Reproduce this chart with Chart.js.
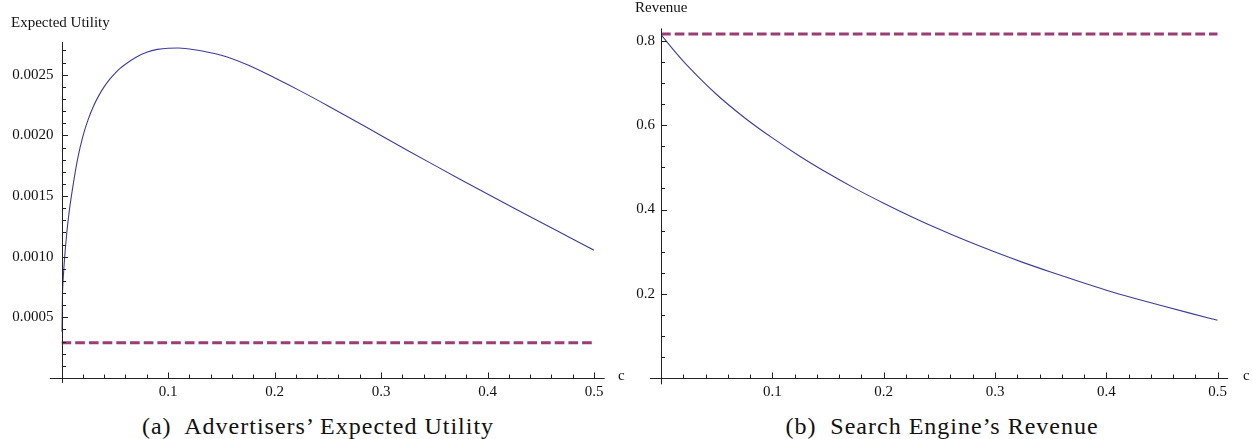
<!DOCTYPE html>
<html>
<head>
<meta charset="utf-8">
<script src="https://cdn.jsdelivr.net/npm/chart.js@4"></script>
<style>
  body { margin: 0; background: #fff; width: 1252px; height: 439px; position: relative; overflow: hidden; font-family: "Liberation Serif", serif; color: #111; }
  .box { position: absolute; top: 0; width: 626px; height: 400px; }
  .lbl { position: absolute; font-size: 15px; line-height: 15px; white-space: nowrap; }
  .cap { position: absolute; top: 414px; font-size: 24px; line-height: 24px; letter-spacing: 1px; white-space: nowrap; transform: translateX(-50%); }
</style>
</head>
<body>
<div class="box" style="left:0"><canvas id="util"></canvas></div>
<div class="box" style="left:626px"><canvas id="rev"></canvas></div>
<div class="lbl" style="left:11px;top:15px">Expected Utility</div>
<div class="lbl" style="left:635px;top:0px">Revenue</div>
<div class="lbl" style="left:618px;top:368px">c</div>
<div class="lbl" style="left:1243px;top:368px">c</div>
<div class="cap" style="left:318px">(a)&nbsp; Advertisers’ Expected Utility</div>
<div class="cap" style="left:942px">(b)&nbsp; Search Engine’s Revenue</div>
<script>
// c values and the two curves
const utilC = [0, 0.0005, 0.001, 0.0025, 0.005, 0.0075, 0.01, 0.015, 0.02, 0.025, 0.03, 0.035, 0.04, 0.045, 0.05, 0.055, 0.06, 0.07, 0.08, 0.09, 0.1, 0.11, 0.125, 0.15, 0.175, 0.2, 0.225, 0.25, 0.275, 0.3, 0.325, 0.35, 0.375, 0.4, 0.425, 0.45, 0.475, 0.5];
const utilVals = [0.00038, 0.00058, 0.00072, 0.00094, 0.0012, 0.00139, 0.00154, 0.0018, 0.00199, 0.00213, 0.00224, 0.002328, 0.0024, 0.00246, 0.00251, 0.002552, 0.002587, 0.002645, 0.002685, 0.002709, 0.002719, 0.00272, 0.002706, 0.00266, 0.00258, 0.002475, 0.002363, 0.002245, 0.002123, 0.001999, 0.001876, 0.001755, 0.001635, 0.001517, 0.0014, 0.001284, 0.001169, 0.001054];
const utilBase = 0.00029;

const revC = [0, 0.0125, 0.025, 0.05, 0.075, 0.1, 0.125, 0.15, 0.175, 0.2, 0.225, 0.25, 0.275, 0.3, 0.325, 0.35, 0.375, 0.4, 0.425, 0.45, 0.475, 0.5];
const revVals = [0.815, 0.775, 0.738, 0.673, 0.618, 0.570, 0.526, 0.486, 0.449, 0.415, 0.383, 0.353, 0.325, 0.299, 0.2745, 0.2515, 0.2295, 0.2085, 0.1895, 0.1715, 0.154, 0.137];
const revBase = 0.8167;

const cEnds = [0, 0.5];
const cMajor = [0.1, 0.2, 0.3, 0.4, 0.5];
const utilMajor = [0.0005, 0.001, 0.0015, 0.002, 0.0025];
const revMajor = [0.2, 0.4, 0.6, 0.8];

const lineBlue = '#3c3c9c';
const dashPurple = '#993d74';

function steps(step, last) {
  const out = [];
  for (let i = 1; i * step <= last + 1e-12; i++) out.push(+(i * step).toFixed(6));
  return out;
}
const near = (a, b) => Math.abs(a - b) < 1e-9;

// axes through the origin with inward ticks, like Mathematica
const mmaAxes = {
  id: 'mmaAxes',
  afterDraw(chart, args, o) {
    const { ctx, scales: { x, y } } = chart;
    const x0 = Math.round(x.getPixelForValue(0)) + 0.5;
    const y0 = Math.round(y.getPixelForValue(0)) + 0.5;
    ctx.save();
    ctx.strokeStyle = '#222';
    ctx.lineWidth = 1;
    ctx.beginPath();
    ctx.moveTo(x.getPixelForValue(o.xFrom), y0);
    ctx.lineTo(x.getPixelForValue(o.xTo), y0);
    ctx.moveTo(x0, y.getPixelForValue(y.max));
    ctx.lineTo(x0, y.getPixelForValue(o.yFrom));
    x.ticks.forEach(t => {
      const p = Math.round(x.getPixelForValue(t.value)) + 0.5;
      ctx.moveTo(p, y0);
      ctx.lineTo(p, y0 - (t.big ? 6 : 4));
    });
    y.ticks.forEach(t => {
      const p = Math.round(y.getPixelForValue(t.value)) + 0.5;
      ctx.moveTo(x0, p);
      ctx.lineTo(x0 + (t.big ? 5.5 : 3.5), p);
    });
    ctx.stroke();
    ctx.restore();
  }
};

function makeChart(id, cs, vals, base, yMax, yMinor, yMajor, yDigits, yWidth, yPad, pad, axisOpts) {
  const tickFont = { family: 'Liberation Serif', size: 15 };
  return new Chart(document.getElementById(id), {
    type: 'line',
    data: {
      datasets: [
        {
          data: cs.map((c, i) => ({ x: c, y: vals[i] })),
          borderColor: lineBlue, borderWidth: 1.1,
          pointRadius: 0, cubicInterpolationMode: 'monotone'
        },
        {
          data: cEnds.map(c => ({ x: c, y: base })),
          borderColor: dashPurple, borderWidth: 3, borderDash: [9.7, 4],
          pointRadius: 0
        }
      ]
    },
    options: {
      responsive: true, maintainAspectRatio: false, animation: false,
      layout: { padding: pad },
      plugins: { legend: { display: false }, tooltip: { enabled: false }, mmaAxes: axisOpts },
      scales: {
        x: {
          type: 'linear', min: cEnds[0], max: cEnds[1],
          grid: { display: false, drawTicks: false }, border: { display: false },
          afterBuildTicks: s => { s.ticks = steps(0.02, 0.5).map(v => ({ value: v, big: cMajor.some(m => near(m, v)) })); },
          afterFit: s => { s.height = 22; },
          ticks: {
            autoSkip: false, maxRotation: 0, padding: 5, color: '#111', font: tickFont,
            callback: v => cMajor.some(m => near(m, v)) ? v.toFixed(1) : ''
          }
        },
        y: {
          min: 0, max: yMax,
          grid: { display: false, drawTicks: false }, border: { display: false },
          afterBuildTicks: s => { s.ticks = steps(yMinor, yMax).map(v => ({ value: v, big: yMajor.some(m => near(m, v)) })); },
          afterFit: s => { s.width = yWidth; },
          ticks: {
            autoSkip: false, padding: yPad, color: '#111', font: tickFont,
            callback: v => yMajor.some(m => near(m, v)) ? v.toFixed(yDigits) : ''
          }
        }
      }
    },
    plugins: [mmaAxes]
  });
}

makeChart('util', utilC, utilVals, utilBase, 0.00277, 0.0001, utilMajor, 4, 61.5, 8,
  { top: 42, right: 32, left: 0, bottom: 0 }, { xFrom: -0.011, xTo: 0.51, yFrom: -0.00004 });
makeChart('rev', revC, revVals, revBase, 0.83, 0.05, revMajor, 1, 35, 6,
  { top: 28.4, right: 34.3, left: 0, bottom: 0 }, { xFrom: -0.0099, xTo: 0.5094, yFrom: -0.015 });
</script>
</body>
</html>
